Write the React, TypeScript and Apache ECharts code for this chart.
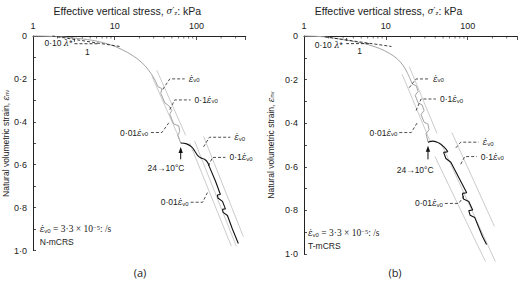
import React, { useEffect, useRef } from 'react';
import * as echarts from 'echarts';

// ---------- Panel (a): N-mCRS ----------
const aMainStress = [1, 1.73, 3.04, 5.31, 8.08, 10.7, 14.2, 18.7, 23.4, 27.7, 31.0, 33.7];
const aMainStrain = [0, 0.002, 0.009, 0.02, 0.036, 0.053, 0.076, 0.105, 0.138, 0.174, 0.205, 0.236];
const aStepStress = [33.7, 37.7, 36.6, 41.0, 45.8, 49.9, 47.1, 52.7, 60.7, 62.4, 58.9, 64.1];
const aStepStrain = [0.236, 0.245, 0.267, 0.312, 0.325, 0.347, 0.365, 0.41, 0.419, 0.445, 0.463, 0.499];
const aArcStress = [64.1, 75.8, 87.2, 94.8, 103, 112, 125, 136, 144];
const aArcStrain = [0.499, 0.503, 0.517, 0.535, 0.557, 0.568, 0.575, 0.588, 0.61];
const aColdStress = [144, 171, 196, 180, 183, 208, 226, 208, 212, 239, 275, 325];
const aColdStrain = [0.61, 0.677, 0.739, 0.741, 0.755, 0.771, 0.806, 0.808, 0.822, 0.837, 0.9, 0.967];
const aRefLines = [
  [[32.7, 0.16], [73.7, 0.463]],
  [[28.5, 0.187], [62.3, 0.481]],
  [[82.5, 0.499], [267, 0.98]],
  [[94.8, 0.49], [307, 0.98]],
  [[122, 0.468], [374, 0.935]],
];
const aLeaders = [
  [[38.7, 0.249], [47.1, 0.2], [71.7, 0.2]],
  [[47.1, 0.343], [54.2, 0.298], [84.8, 0.298]],
  [[27.7, 0.45], [37.7, 0.45], [45.8, 0.405]],
  [[122, 0.517], [144, 0.472], [260, 0.472]],
  [[140, 0.606], [157, 0.566], [226, 0.566]],
  [[84.8, 0.775], [119, 0.775], [136, 0.73]],
];
const aSlope = [[1.73, 0], [11.6, 0.049]];
const aTriangle = [[3.21, 0.013], [3.21, 0.036], [6.47, 0.036]];
const aArrow = [64.1, 0.575, 0.517];

const EPS = '{e|ε̇}{s|v0}';
const aLabelStress = [80.2, 94.8, 25.5, 290, 253, 80.2, 42.4, 2.05, 4.63, 1.21, 1.21];
const aLabelStrain = [0.2, 0.298, 0.45, 0.472, 0.566, 0.775, 0.615, 0.033, 0.076, 0.9, 0.962];
const aLabelText = [EPS, '0·1' + EPS, '0·01' + EPS, EPS, '0·1' + EPS, '0·01' + EPS, '24→10°C', '0·10 {e|λ}*', '1',
  EPS + '{r| = 3·3 × 10}{p|−5}{r|: /s}', 'N-mCRS'];
const aLabelAlign = ['left', 'left', 'right', 'left', 'left', 'right', 'center', 'center', 'center', 'left', 'left'];

// ---------- Panel (b): T-mCRS ----------
const bMainStress = [1, 1.8, 3.14, 5.49, 8.34, 11.0, 13.8, 16.3, 18.2, 19.8];
const bMainStrain = [0, 0.004, 0.018, 0.035, 0.057, 0.079, 0.105, 0.136, 0.167, 0.197];
const bStepStress = [19.8, 20.9, 23.4, 24.8, 22.8, 24.8, 27.7, 29.3, 26.9, 29.3, 32.7, 33.7, 31.0, 32.7];
const bStepStrain = [0.197, 0.219, 0.228, 0.254, 0.272, 0.307, 0.316, 0.342, 0.36, 0.395, 0.404, 0.43, 0.447, 0.487];
const bArcStress = [32.7, 37.7, 44.5, 51.2, 57.3];
const bArcStrain = [0.487, 0.482, 0.491, 0.509, 0.531];
const bColdStress = [57.3, 50.8, 54.1, 62.2, 97.2, 86.2, 88.9, 103, 115, 103, 107, 122, 152, 170];
const bColdStrain = [0.531, 0.534, 0.562, 0.579, 0.719, 0.722, 0.748, 0.759, 0.798, 0.801, 0.822, 0.833, 0.921, 0.956];
const bRefLines = [
  [[19.3, 0.14], [42.1, 0.447]],
  [[15.8, 0.175], [34.6, 0.482]],
  [[39.8, 0.553], [165, 1.035]],
  [[48.4, 0.5], [218, 1.035]],
  [[64, 0.443], [212, 0.873]],
];
const bLeaders = [
  [[19.3, 0.237], [23.4, 0.197], [33.7, 0.197]],
  [[23.4, 0.342], [26.9, 0.289], [40.9, 0.289]],
  [[14.6, 0.443], [20.4, 0.443], [24.1, 0.399]],
  [[71.6, 0.513], [82.2, 0.487], [136, 0.487]],
  [[82.2, 0.588], [92.0, 0.553], [129, 0.553]],
  [[52.6, 0.768], [77.8, 0.768], [92.0, 0.728]],
];
const bSlope = [[1.8, 0.004], [11.7, 0.048]];
const bTriangle = [[3.32, 0.009], [3.32, 0.035], [6.31, 0.035]];
const bArrow = [32.7, 0.566, 0.504];

const bLabelStress = [37.7, 45.8, 13.8, 152, 144, 49.8, 22.8, 2.01, 4.77, 1.12, 1.12];
const bLabelStrain = [0.197, 0.289, 0.443, 0.487, 0.553, 0.768, 0.614, 0.039, 0.07, 0.904, 0.965];
const bLabelText = [EPS, '0·1' + EPS, '0·01' + EPS, EPS, '0·1' + EPS, '0·01' + EPS, '24→10°C', '0·10 {e|λ}*', '1',
  EPS + '{r| = 3·3 × 10}{p|−5}{r|: /s}', 'T-mCRS'];
const bLabelAlign = aLabelAlign;

// axis ticks / labels
const minorStress = [2, 3, 4, 5, 6, 7, 8, 9, 20, 30, 40, 50, 60, 70, 80, 90, 200, 300];
const majorStress = [1, 10, 100];
const panelLabels = ['(a)', '(b)'];

const INK = '#222';
const SANS = 'Liberation Sans';
const rich: any = {
  e: { fontFamily: 'DejaVu Serif', fontStyle: 'italic', fontSize: 8.5, color: INK },
  s: { fontFamily: SANS, fontSize: 6, color: INK, verticalAlign: 'bottom', lineHeight: 6 },
  p: { fontFamily: 'Liberation Serif', fontSize: 6.5, color: INK, verticalAlign: 'top', lineHeight: 6 },
  r: { fontFamily: 'Liberation Serif', fontSize: 9.5, color: INK },
};

const zip = (xs: number[], ys: number[]) => xs.map((x, i) => [x, ys[i]]);

function line(gi: number, data: number[][], color: string, width: number, opts: any = {}) {
  return {
    type: 'line', xAxisIndex: gi, yAxisIndex: gi, data, symbol: 'none', showSymbol: false,
    silent: true, clip: false, lineStyle: { color, width, type: opts.dash ? [3, 2] : 'solid' },
    smooth: opts.smooth || false, z: opts.z || 2,
  };
}

function texts(gi: number, xs: number[], ys: number[], t: string[], al: string[]) {
  return {
    type: 'custom', xAxisIndex: gi, yAxisIndex: gi, clip: false, silent: true, z: 5,
    data: xs.map((x, i) => [x, ys[i], i]),
    renderItem: (_p: any, api: any) => {
      const i = api.value(2);
      const c = api.coord([api.value(0), api.value(1)]);
      return {
        type: 'text', x: c[0], y: c[1],
        style: { text: t[i], rich, align: al[i], verticalAlign: 'middle', fill: INK, fontFamily: SANS, fontSize: 8.5 },
      };
    },
  };
}

function arrow(gi: number, a: number[]) {
  return {
    type: 'custom', xAxisIndex: gi, yAxisIndex: gi, clip: false, silent: true, z: 5,
    data: [a],
    renderItem: (_p: any, api: any) => {
      const p0 = api.coord([api.value(0), api.value(1)]);
      const p1 = api.coord([api.value(0), api.value(2)]);
      return {
        type: 'group', children: [
          { type: 'line', shape: { x1: p0[0], y1: p0[1], x2: p1[0], y2: p1[1] + 4 }, style: { stroke: '#111', lineWidth: 1 } },
          { type: 'polygon', shape: { points: [[p1[0], p1[1]], [p1[0] - 2.2, p1[1] + 6], [p1[0] + 2.2, p1[1] + 6]] }, style: { fill: '#111' } },
        ],
      };
    },
  };
}

function minorTicks(gi: number) {
  return {
    type: 'scatter', xAxisIndex: gi, yAxisIndex: gi, silent: true, clip: false,
    data: minorStress.map((x) => [x, 0]), symbol: 'rect', symbolSize: [0.8, 2.5], symbolOffset: [0, 1.25],
    itemStyle: { color: INK }, z: 6,
  };
}

function panelSeries(gi: number, d: any) {
  return [
    line(gi, zip(d.mainX, d.mainY), '#a3a3a3', 1, { smooth: 0.3 }),
    line(gi, zip(d.stepX, d.stepY), '#a3a3a3', 1),
    ...d.refs.map((r: number[][]) => line(gi, r, '#b4b4b4', 0.7, { z: 1 })),
    line(gi, zip(d.arcX, d.arcY), '#111', 1.1, { smooth: 0.4, z: 3 }),
    line(gi, zip(d.coldX, d.coldY), '#111', 1.1, { z: 3 }),
    ...d.leaders.map((r: number[][]) => line(gi, r, INK, 0.8, { dash: true, z: 4 })),
    line(gi, d.slope, INK, 0.9, { dash: true, z: 4 }),
    line(gi, d.tri, INK, 0.9, { dash: true, z: 4 }),
    arrow(gi, d.arrow),
    texts(gi, d.lx, d.ly, d.lt, d.la),
    minorTicks(gi),
  ];
}

const xName = 'Effective vertical stress, {e|σ′}{s|z}: kPa';
const yName = 'Natural volumetric strain, {e|ε}{s|nv}';

function xAxis(gi: number, shiftLeft: number) {
  return {
    type: 'log', logBase: 10, gridIndex: gi, position: 'top', min: 1, max: 400,
    name: xName, nameLocation: 'middle', nameGap: 20,
    nameTextStyle: { fontFamily: SANS, fontSize: 10.5, color: INK, rich, padding: [0, shiftLeft * 2, 0, 0] },
    axisLine: { show: true, lineStyle: { color: INK, width: 1 } },
    axisTick: { show: true, inside: true, length: 4, lineStyle: { color: INK, width: 0.8 } },
    minorTick: { show: false },
    splitLine: { show: false },
    axisLabel: {
      margin: 6, fontFamily: SANS, fontSize: 9, color: INK,
      formatter: (v: number) => (majorStress.some((m) => Math.abs(m - v) < 1e-6 * m) ? String(Math.round(v)) : ''),
    },
  };
}

function yAxis(gi: number, gap: number) {
  return {
    type: 'value', gridIndex: gi, inverse: true, min: 0, max: 1, interval: 0.1,
    name: yName, nameLocation: 'middle', nameGap: gap,
    nameTextStyle: { fontFamily: SANS, fontSize: 8.5, color: INK, rich },
    axisLine: { show: true, lineStyle: { color: INK, width: 1 } },
    axisTick: { show: true, inside: true, length: 3, lineStyle: { color: INK, width: 0.8 } },
    splitLine: { show: false },
    axisLabel: {
      margin: 6, fontFamily: SANS, fontSize: 9, color: INK,
      formatter: (v: number) => {
        const k = Math.round(v * 10);
        if (k % 2) return '';
        return k === 0 ? '0' : (k / 10).toFixed(1).replace('.', '·');
      },
    },
  };
}

export default function App() {
  const ref = useRef<HTMLDivElement>(null);
  useEffect(() => {
    if (!ref.current) return;
    const chart = echarts.init(ref.current, undefined, { renderer: 'svg' });
    const A = {
      mainX: aMainStress, mainY: aMainStrain, stepX: aStepStress, stepY: aStepStrain,
      arcX: aArcStress, arcY: aArcStrain, coldX: aColdStress, coldY: aColdStrain,
      refs: aRefLines, leaders: aLeaders, slope: aSlope, tri: aTriangle, arrow: aArrow,
      lx: aLabelStress, ly: aLabelStrain, lt: aLabelText, la: aLabelAlign,
    };
    const B = {
      mainX: bMainStress, mainY: bMainStrain, stepX: bStepStress, stepY: bStepStrain,
      arcX: bArcStress, arcY: bArcStrain, coldX: bColdStress, coldY: bColdStrain,
      refs: bRefLines, leaders: bLeaders, slope: bSlope, tri: bTriangle, arrow: bArrow,
      lx: bLabelStress, ly: bLabelStrain, lt: bLabelText, la: bLabelAlign,
    };
    chart.setOption({
      animation: false,
      backgroundColor: '#fff',
      grid: [
        { left: 30.3, top: 26, width: 215.4, height: 224.5 },
        { left: 304, top: 26, width: 214.7, height: 228 },
      ],
      xAxis: [xAxis(0, 12), xAxis(1, 22)],
      yAxis: [yAxis(0, 23), yAxis(1, 29)],
      series: [...panelSeries(0, A), ...panelSeries(1, B)],
      graphic: [
        { type: 'text', x: 140, y: 272, style: { text: panelLabels[0], fontFamily: 'Open Sans', fontSize: 11, fill: INK, align: 'center', verticalAlign: 'middle' } },
        { type: 'text', x: 395, y: 272, style: { text: panelLabels[1], fontFamily: 'Open Sans', fontSize: 11, fill: INK, align: 'center', verticalAlign: 'middle' } },
      ],
    });
    return () => chart.dispose();
  }, []);
  return <div ref={ref} style={{ position: 'fixed', left: 0, top: 0, width: 520, height: 285, background: '#fff' }} />;
}
